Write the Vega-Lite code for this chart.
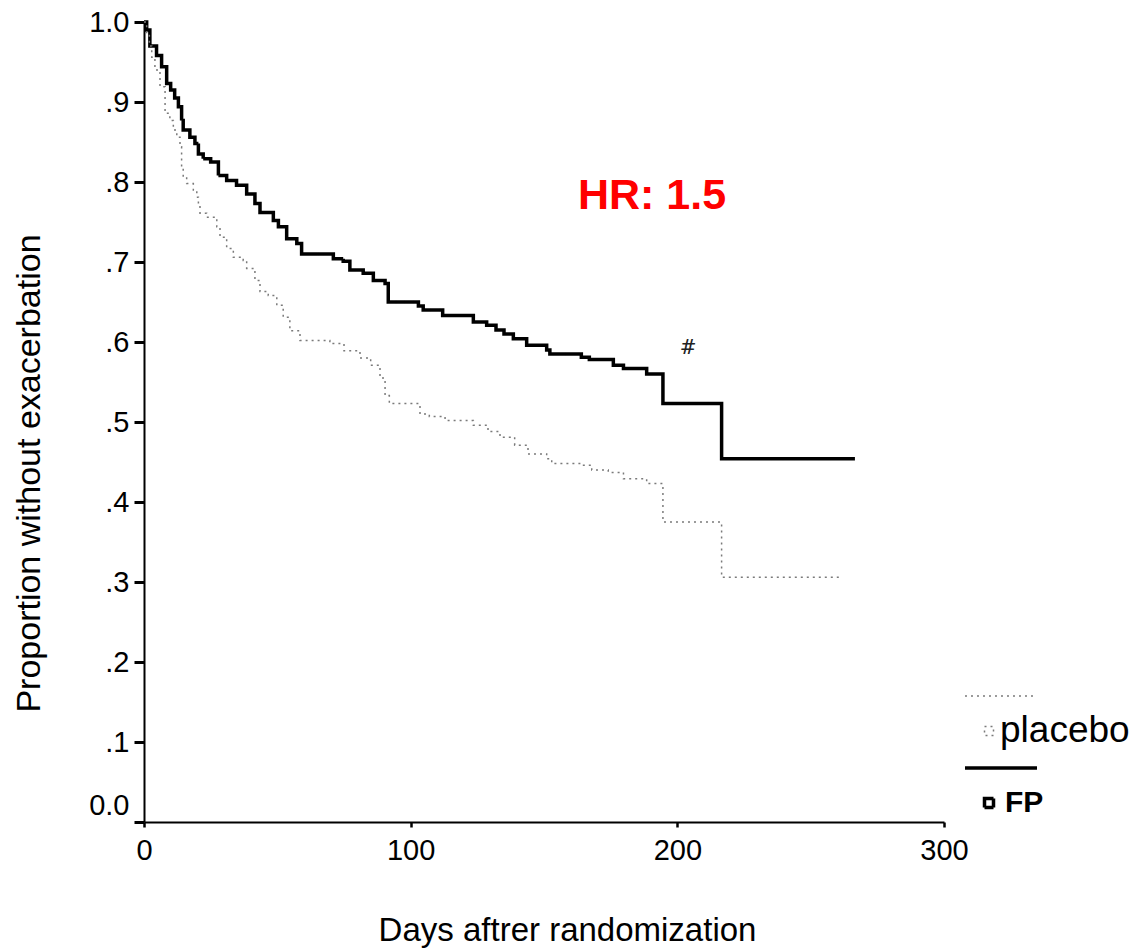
{
  "$schema": "https://vega.github.io/schema/vega-lite/v6.json",
  "width": 800,
  "height": 800,
  "autosize": {"type": "none"},
  "padding": {"left": 144, "top": 22, "right": 190, "bottom": 129},
  "background": "white",
  "config": {"view": {"stroke": null}, "font": "Liberation Sans"},
  "datasets": {
    "km": [
      {"group": "FP", "day": 0, "surv": 1.0},
      {"group": "FP", "day": 1, "surv": 0.99},
      {"group": "FP", "day": 2.2, "surv": 0.97},
      {"group": "FP", "day": 4.7, "surv": 0.958},
      {"group": "FP", "day": 6.6, "surv": 0.944},
      {"group": "FP", "day": 8.5, "surv": 0.923},
      {"group": "FP", "day": 10, "surv": 0.915},
      {"group": "FP", "day": 11.5, "surv": 0.905},
      {"group": "FP", "day": 12.9, "surv": 0.894},
      {"group": "FP", "day": 14.1, "surv": 0.877},
      {"group": "FP", "day": 14.7, "surv": 0.865},
      {"group": "FP", "day": 17.2, "surv": 0.856},
      {"group": "FP", "day": 19.1, "surv": 0.848},
      {"group": "FP", "day": 20.4, "surv": 0.835},
      {"group": "FP", "day": 22.2, "surv": 0.829},
      {"group": "FP", "day": 25, "surv": 0.825},
      {"group": "FP", "day": 27.9, "surv": 0.808},
      {"group": "FP", "day": 31, "surv": 0.802},
      {"group": "FP", "day": 34.7, "surv": 0.796},
      {"group": "FP", "day": 38.5, "surv": 0.785},
      {"group": "FP", "day": 41.6, "surv": 0.773},
      {"group": "FP", "day": 43.5, "surv": 0.762},
      {"group": "FP", "day": 48.5, "surv": 0.752},
      {"group": "FP", "day": 50.4, "surv": 0.744},
      {"group": "FP", "day": 53.5, "surv": 0.729},
      {"group": "FP", "day": 57.3, "surv": 0.723},
      {"group": "FP", "day": 59.1, "surv": 0.71},
      {"group": "FP", "day": 71, "surv": 0.704},
      {"group": "FP", "day": 74.7, "surv": 0.701},
      {"group": "FP", "day": 77.2, "surv": 0.69},
      {"group": "FP", "day": 82.2, "surv": 0.686},
      {"group": "FP", "day": 86, "surv": 0.677},
      {"group": "FP", "day": 90.4, "surv": 0.673},
      {"group": "FP", "day": 91.6, "surv": 0.65},
      {"group": "FP", "day": 102.9, "surv": 0.645},
      {"group": "FP", "day": 104.7, "surv": 0.64},
      {"group": "FP", "day": 112, "surv": 0.633},
      {"group": "FP", "day": 123.5, "surv": 0.625},
      {"group": "FP", "day": 128.5, "surv": 0.621},
      {"group": "FP", "day": 132, "surv": 0.615},
      {"group": "FP", "day": 135, "surv": 0.61},
      {"group": "FP", "day": 138.5, "surv": 0.604},
      {"group": "FP", "day": 143.5, "surv": 0.596},
      {"group": "FP", "day": 151, "surv": 0.59},
      {"group": "FP", "day": 152.2, "surv": 0.585},
      {"group": "FP", "day": 164, "surv": 0.581},
      {"group": "FP", "day": 167, "surv": 0.578},
      {"group": "FP", "day": 176, "surv": 0.571},
      {"group": "FP", "day": 179.8, "surv": 0.567},
      {"group": "FP", "day": 188.5, "surv": 0.56},
      {"group": "FP", "day": 194.6, "surv": 0.523},
      {"group": "FP", "day": 216.6, "surv": 0.454},
      {"group": "FP", "day": 266.6, "surv": 0.454},
      {"group": "placebo", "day": 0, "surv": 1.0},
      {"group": "placebo", "day": 1, "surv": 0.985},
      {"group": "placebo", "day": 2, "surv": 0.97},
      {"group": "placebo", "day": 2.9, "surv": 0.956},
      {"group": "placebo", "day": 4.1, "surv": 0.94},
      {"group": "placebo", "day": 6, "surv": 0.919},
      {"group": "placebo", "day": 7.9, "surv": 0.886},
      {"group": "placebo", "day": 9.7, "surv": 0.877},
      {"group": "placebo", "day": 11, "surv": 0.865},
      {"group": "placebo", "day": 12.3, "surv": 0.856},
      {"group": "placebo", "day": 13.5, "surv": 0.844},
      {"group": "placebo", "day": 14.1, "surv": 0.819},
      {"group": "placebo", "day": 14.7, "surv": 0.806},
      {"group": "placebo", "day": 16, "surv": 0.798},
      {"group": "placebo", "day": 18.5, "surv": 0.79},
      {"group": "placebo", "day": 19.8, "surv": 0.781},
      {"group": "placebo", "day": 20.4, "surv": 0.769},
      {"group": "placebo", "day": 21, "surv": 0.761},
      {"group": "placebo", "day": 23.5, "surv": 0.756},
      {"group": "placebo", "day": 27.3, "surv": 0.744},
      {"group": "placebo", "day": 28.5, "surv": 0.731},
      {"group": "placebo", "day": 31, "surv": 0.717},
      {"group": "placebo", "day": 33.5, "surv": 0.706},
      {"group": "placebo", "day": 37.2, "surv": 0.702},
      {"group": "placebo", "day": 38.5, "surv": 0.692},
      {"group": "placebo", "day": 41.6, "surv": 0.677},
      {"group": "placebo", "day": 43.5, "surv": 0.663},
      {"group": "placebo", "day": 46.6, "surv": 0.658},
      {"group": "placebo", "day": 49.8, "surv": 0.646},
      {"group": "placebo", "day": 52.2, "surv": 0.631},
      {"group": "placebo", "day": 54.7, "surv": 0.614},
      {"group": "placebo", "day": 58.5, "surv": 0.602},
      {"group": "placebo", "day": 69.7, "surv": 0.598},
      {"group": "placebo", "day": 75, "surv": 0.589},
      {"group": "placebo", "day": 81, "surv": 0.58},
      {"group": "placebo", "day": 85, "surv": 0.571},
      {"group": "placebo", "day": 88.5, "surv": 0.555},
      {"group": "placebo", "day": 90.4, "surv": 0.533},
      {"group": "placebo", "day": 92, "surv": 0.523},
      {"group": "placebo", "day": 103.5, "surv": 0.51},
      {"group": "placebo", "day": 107, "surv": 0.507},
      {"group": "placebo", "day": 112.9, "surv": 0.502},
      {"group": "placebo", "day": 123.5, "surv": 0.496},
      {"group": "placebo", "day": 129, "surv": 0.488},
      {"group": "placebo", "day": 133.5, "surv": 0.481},
      {"group": "placebo", "day": 139, "surv": 0.471},
      {"group": "placebo", "day": 144, "surv": 0.46},
      {"group": "placebo", "day": 151, "surv": 0.454},
      {"group": "placebo", "day": 152.9, "surv": 0.448},
      {"group": "placebo", "day": 164, "surv": 0.446},
      {"group": "placebo", "day": 167.9, "surv": 0.44},
      {"group": "placebo", "day": 174.1, "surv": 0.437},
      {"group": "placebo", "day": 179.8, "surv": 0.429},
      {"group": "placebo", "day": 188.5, "surv": 0.423},
      {"group": "placebo", "day": 194.6, "surv": 0.375},
      {"group": "placebo", "day": 216.6, "surv": 0.306},
      {"group": "placebo", "day": 261.6, "surv": 0.306}
    ],
    "hr": [{"day": 190.5, "surv": 0.783, "label": "HR: 1.5"}],
    "mark": [{"day": 204, "surv": 0.593, "label": "#"}]
  },
  "layer": [
    {
      "data": {"name": "km"},
      "mark": {"type": "line", "interpolate": "step-after", "strokeCap": "butt"},
      "encoding": {
        "x": {
          "field": "day", "type": "quantitative",
          "scale": {"domain": [0, 300], "nice": false},
          "axis": {
            "values": [0, 100, 200, 300], "grid": false,
            "domainColor": "black", "domainWidth": 2,
            "tickColor": "black", "tickWidth": 2.5, "tickSize": 5,
            "labelFontSize": 29, "labelColor": "black", "labelPadding": 9,
            "labelFlush": false, "labelOverlap": false,
            "title": "Days aftrer randomization", "titleFontSize": 33,
            "titleFontWeight": "normal", "titleColor": "black",
            "titlePadding": 49, "titleX": 423
          }
        },
        "y": {
          "field": "surv", "type": "quantitative",
          "scale": {"domain": [0, 1], "nice": false},
          "axis": {
            "values": [0, 0.1, 0.2, 0.3, 0.4, 0.5, 0.6, 0.7, 0.8, 0.9, 1.0],
            "labelExpr": "datum.value == 0 ? '0.0' : datum.value == 1 ? '1.0' : replace(format(datum.value, '.1f'), '0.', '.')",
            "grid": false,
            "domainColor": "black", "domainWidth": 2,
            "tickColor": "black", "tickWidth": 3, "tickSize": 10,
            "labelFontSize": 29, "labelColor": "black", "labelPadding": 5,
            "labelFlush": false, "labelOverlap": false,
            "labelOffset": {"condition": {"test": "datum.value == 0", "value": -17}, "value": 0},
            "title": "Proportion without exacerbation", "titleFontSize": 34,
            "titleFontWeight": "normal", "titleColor": "black",
            "titlePadding": 42, "titleY": 451
          }
        },
        "color": {
          "field": "group", "type": "nominal",
          "scale": {"domain": ["placebo", "FP"], "range": ["#7a7a7a", "#000000"]},
          "legend": {
            "title": null, "orient": "none", "legendX": 807, "legendY": 672,
            "direction": "vertical",
            "symbolType": "M-0.667,-0.97H1.333M-0.125,-0.125H0.125V0.125H-0.125Z",
            "symbolSize": 5184, "labelOffset": -27,
            "labelFontSize": 36, "labelColor": "black", "rowPadding": 12,
            "encode": {
              "symbols": {"update": {"fill": {"value": "transparent"}}},
              "labels": {"update": {
                "fontSize": {"signal": "datum.label == 'FP' ? 30 : 37"},
                "fontWeight": {"signal": "datum.label == 'FP' ? 'bold' : 'normal'"},
                "dx": {"signal": "datum.label == 'FP' ? 5 : 0"}
              }}
            }
          }
        },
        "strokeDash": {
          "field": "group", "type": "nominal",
          "scale": {"domain": ["placebo", "FP"], "range": [[2, 4], [1, 0]]}
        },
        "strokeWidth": {
          "field": "group", "type": "nominal",
          "scale": {"domain": ["placebo", "FP"], "range": [1.5, 3.5]}
        }
      }
    },
    {
      "data": {"name": "hr"},
      "mark": {"type": "text", "color": "#ff0000", "fontSize": 43, "fontWeight": "bold", "baseline": "middle", "align": "center"},
      "encoding": {
        "x": {"field": "day", "type": "quantitative"},
        "y": {"field": "surv", "type": "quantitative"},
        "text": {"field": "label"}
      }
    },
    {
      "data": {"name": "mark"},
      "mark": {"type": "text", "color": "#222222", "fontSize": 20, "font": "DejaVu Serif", "baseline": "middle", "align": "center"},
      "encoding": {
        "x": {"field": "day", "type": "quantitative"},
        "y": {"field": "surv", "type": "quantitative"},
        "text": {"field": "label"}
      }
    }
  ]
}
